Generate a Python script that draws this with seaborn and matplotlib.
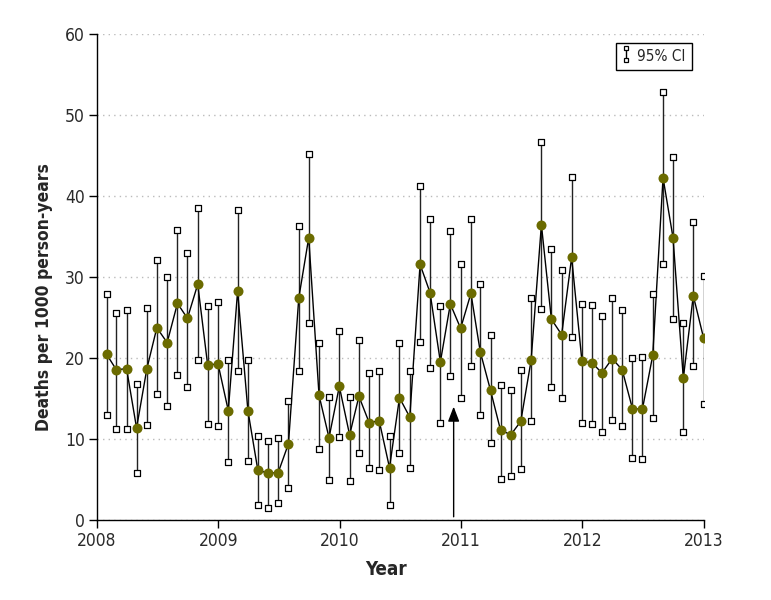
"""Monthly death rate with 95% CI, 2008-2012."""
import os

import matplotlib
matplotlib.use("Agg")
import matplotlib.pyplot as plt
import matplotlib.dates as mdates
from matplotlib import font_manager as fm
from matplotlib.lines import Line2D
import pandas as pd
import seaborn as sns

# -- Data ----------------------------------------------------------------------
MONTHS = pd.date_range("2008-01-31", "2012-12-31", freq="ME")

RATE = [20.45, 18.56, 18.68, 11.36, 18.68, 23.74, 21.9, 26.75, 24.9, 29.1, 19.1, 19.3,
        13.5, 28.27, 13.5, 6.13, 5.8, 5.84, 9.42, 27.4, 34.86, 15.4, 10.16, 16.5,
        10.5, 15.27, 12.0, 12.26, 6.46, 15.1, 12.7, 31.56, 28.07, 19.5, 26.67, 23.66,
        27.98, 20.78, 16.0, 11.1, 10.53, 12.18, 19.7, 36.46, 24.8, 22.88, 32.43, 19.6,
        19.4, 18.15, 19.92, 18.56, 13.74, 13.7, 20.33, 42.26, 34.86, 17.5, 27.7, 22.47]

CI_UPPER = [27.94, 25.5, 25.97, 16.83, 26.2, 32.06, 30.0, 35.76, 32.96, 38.56, 26.4, 26.95,
            19.75, 38.3, 19.75, 10.37, 9.71, 10.08, 14.65, 36.26, 45.19, 21.8, 15.23, 23.37,
            15.2, 22.18, 18.1, 18.35, 10.41, 21.8, 18.35, 41.28, 37.12, 26.42, 35.64, 31.65,
            37.12, 29.2, 22.84, 16.67, 16.1, 18.52, 27.37, 46.7, 33.5, 30.82, 42.35, 26.7,
            26.6, 25.2, 27.37, 25.93, 19.96, 20.08, 27.94, 52.88, 44.8, 24.32, 36.8, 30.1]

CI_LOWER = [12.96, 11.28, 11.28, 5.8, 11.69, 15.6, 14.1, 17.94, 16.42, 19.8, 11.9, 11.56,
            7.12, 18.4, 7.28, 1.81, 1.52, 2.14, 3.95, 18.4, 24.32, 8.72, 4.98, 10.25,
            4.77, 8.31, 6.46, 6.17, 1.85, 8.27, 6.46, 21.93, 18.77, 11.98, 17.78, 15.1,
            19.05, 13.0, 9.5, 5.1, 5.47, 6.34, 12.22, 26.05, 16.42, 15.1, 22.63, 11.98,
            11.9, 10.86, 12.3, 11.56, 7.65, 7.53, 12.63, 31.56, 24.86, 10.82, 18.97, 14.32]

ARROW_DATE = pd.Timestamp("2010-12-10")
ARROW_FROM, ARROW_TO = 0.4, 14.0

YEARS = [2008, 2009, 2010, 2011, 2012, 2013]
Y_TICKS = [0, 10, 20, 30, 40, 50, 60]

# -- Style ---------------------------------------------------------------------
POINT_COLOR = "#6b6b00"
sns.set_style("ticks")


def pick_font(candidates):
    """Return path of the first installed font file among candidates."""
    files = {os.path.basename(f).lower(): f for f in fm.findSystemFonts()}
    for f in fm.fontManager.ttflist:
        files.setdefault(os.path.basename(f.fname).lower(), f.fname)
    for c in candidates:
        if c in files:
            return files[c]
    return None


REG_PATH = pick_font(["liberationsansnarrow-regular.ttf", "dejavusanscondensed.ttf",
                      "robotocondensed-regular.ttf", "liberationsans-regular.ttf"])
BOLD_PATH = pick_font(["liberationsansnarrow-bold.ttf", "dejavusanscondensed-bold.ttf",
                       "robotocondensed-bold.ttf", "liberationsans-bold.ttf"])


def fprop(bold, size):
    path = BOLD_PATH if bold else REG_PATH
    if path:
        return fm.FontProperties(fname=path, size=size)
    return fm.FontProperties(family="DejaVu Sans", weight="bold" if bold else "normal",
                             size=size)


df = pd.DataFrame({"month": MONTHS, "rate": RATE,
                   "upper": CI_UPPER, "lower": CI_LOWER})


class CIHandler:
    """Legend key: vertical bar with open squares at both ends."""

    def legend_artist(self, legend, orig_handle, fontsize, handlebox):
        x0, y0 = handlebox.xdescent, handlebox.ydescent
        w, h = handlebox.width, handlebox.height
        cx = x0 + w / 2
        ln = Line2D([cx, cx], [y0, y0 + h], color="black", lw=1,
                    marker="s", markersize=3.4, markerfacecolor="white",
                    markeredgecolor="black", markeredgewidth=0.9,
                    transform=handlebox.get_transform())
        handlebox.add_artist(ln)
        return ln


fig, ax = plt.subplots(figsize=(7.71, 6.0), dpi=100)
fig.subplots_adjust(left=0.1254, right=0.913, bottom=0.1333, top=0.9433)

# CI bars
ax.vlines(df["month"], df["lower"], df["upper"], color="#222222", lw=1, zorder=2)
for col in ["upper", "lower"]:
    sns.scatterplot(data=df, x="month", y=col, marker="s", s=14, color="white",
                    edgecolor="black", linewidth=0.9, ax=ax, zorder=4, legend=False)

# main series
sns.lineplot(data=df, x="month", y="rate", color="black", lw=1, ax=ax, zorder=3)
sns.scatterplot(data=df, x="month", y="rate", s=52, color=POINT_COLOR,
                edgecolor=POINT_COLOR, linewidth=0, ax=ax, zorder=5, legend=False)

# intervention arrow
ax.annotate("", xy=(ARROW_DATE, ARROW_TO), xytext=(ARROW_DATE, ARROW_FROM),
            arrowprops=dict(arrowstyle="-|>,head_length=0.6,head_width=0.23",
                            color="black", lw=1, mutation_scale=15,
                            shrinkA=0, shrinkB=0), zorder=6)

# axes
ax.set_xlim(pd.Timestamp("2008-01-01"), pd.Timestamp("2013-01-01"))
ax.set_ylim(0, 60)
ax.set_xticks([pd.Timestamp(f"{y}-01-01") for y in YEARS])
ax.xaxis.set_major_formatter(mdates.DateFormatter("%Y"))
ax.set_yticks(Y_TICKS)
ax.yaxis.grid(True, linestyle=(0, (1, 3)), color="#bbbbbb", lw=1)
ax.xaxis.grid(False)
sns.despine(ax=ax)
for sp in ["left", "bottom"]:
    ax.spines[sp].set_color("black")
    ax.spines[sp].set_linewidth(1)
ax.tick_params(axis="both", direction="out", length=5.5, width=1, color="black",
               labelcolor="#2a2a2a", pad=3)
for lab in ax.get_xticklabels() + ax.get_yticklabels():
    lab.set_fontproperties(fprop(False, 12.5))
ax.set_xlabel("Year", fontproperties=fprop(True, 13.5), labelpad=7)
ax.set_ylabel("Deaths per 1000 person-years", fontproperties=fprop(True, 12.5),
              labelpad=9)
ax.xaxis.label.set_x(0.476)
ax.yaxis.label.set_y(0.459)

ax.legend([object()], ["95% CI"], handler_map={object: CIHandler()},
          loc="upper right", bbox_to_anchor=(0.980, 0.981), borderaxespad=0,
          frameon=True, fancybox=False, edgecolor="black", framealpha=1,
          prop=fprop(False, 11), handlelength=0.5, handleheight=0.9,
          handletextpad=0.5, borderpad=0.4)
ax.get_legend().get_frame().set_linewidth(1)

fig.savefig("out.png", dpi=100)
